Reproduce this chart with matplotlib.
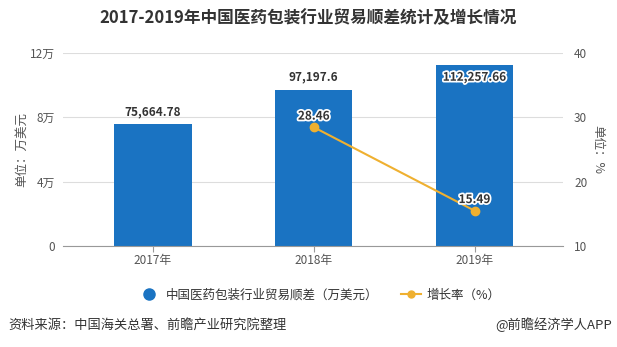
import matplotlib
matplotlib.use("Agg")
import matplotlib.pyplot as plt
import matplotlib.patheffects as pe
from matplotlib.lines import Line2D
import numpy as np

plt.rcParams['font.family'] = ['Noto Sans CJK SC', 'DejaVu Sans']

categories = ["2017年", "2018年", "2019年"]
surplus = [75664.78, 97197.6, 112257.66]
surplus_labels = ["75,664.78", "97,197.6", "112,257.66"]
growth_x = ["2018年", "2019年"]
growth = [28.46, 15.49]
left_ticks = [0, 40000, 80000, 120000]
left_ticklabels = ["0", "4万", "8万", "12万"]
right_ticks = [10, 20, 30, 40]

title = "2017-2019年中国医药包装行业贸易顺差统计及增长情况"
bar_color = "#1a73c2"
line_color = "#efb030"
text_color = "#333333"
axis_text = "#555555"

fig = plt.figure(figsize=(6.17, 3.47), dpi=100)
ax = fig.add_axes([63/617, 1-246/347, 500/617, 193/347])
ax2 = ax.twinx()

x = np.arange(len(categories))
ax.bar(x, surplus, width=0.48, color=bar_color, zorder=2)
ax.set_ylim(0, 120000)
ax.set_xlim(-0.56, 2.55)
ax.set_yticks(left_ticks)
ax.set_yticklabels(left_ticklabels)
ax.set_xticks(x)
ax.set_xticklabels(categories)
ax.grid(axis='y', color='#dddddd', linewidth=0.8, zorder=0)
for s in ['top', 'right', 'left']:
    ax.spines[s].set_visible(False)
ax.spines['bottom'].set_color('#999999')
ax.tick_params(axis='y', length=0, labelsize=8.5, labelcolor=axis_text, pad=6)
ax.tick_params(axis='x', length=4, color='#999999', labelsize=8.5, labelcolor=axis_text, pad=2)
ax.set_ylabel("单位：万美元", fontsize=9, color=axis_text, labelpad=1)

stroke = [pe.withStroke(linewidth=2.5, foreground='white')]
for i, (v, lab) in enumerate(zip(surplus, surplus_labels)):
    if v > 105000:
        ax.annotate(lab, (x[i], v), xytext=(0, -8.5), textcoords='offset points',
                    ha='center', va='center', fontsize=8.5, fontweight='bold',
                    color=text_color, path_effects=stroke, zorder=5)
    else:
        ax.annotate(lab, (x[i], v), xytext=(0, 9), textcoords='offset points',
                    ha='center', va='center', fontsize=8.5, fontweight='bold',
                    color=text_color, zorder=5)

gx = [categories.index(c) for c in growth_x]
ax2.plot(gx, growth, color=line_color, linewidth=1.5, marker='o', markersize=6, zorder=4)
ax2.set_ylim(10, 40)
ax2.set_yticks(right_ticks)
for s in ['top', 'right', 'left', 'bottom']:
    ax2.spines[s].set_visible(False)
ax2.tick_params(axis='y', length=0, labelsize=8.5, labelcolor=axis_text, pad=8)
ax2.set_ylabel("单位：%", fontsize=9, color=axis_text, rotation=270, labelpad=12)
for xi, v in zip(gx, growth):
    ax2.annotate(f"{v:.2f}", (xi, v), xytext=(0, 8), textcoords='offset points',
                 ha='center', va='center', fontsize=8.5, fontweight='bold',
                 color=text_color, path_effects=stroke, zorder=6)

fig.text(0.5, 1-18/347, title, ha='center', va='center', fontsize=12,
         fontweight='bold', color=text_color)

handles = [Line2D([], [], linestyle='none', marker='o', markersize=8, color=bar_color),
           Line2D([], [], color=line_color, marker='o', markersize=5, linewidth=1.5)]
fig.legend(handles, ["中国医药包装行业贸易顺差（万美元）", "增长率（%）"],
           loc='center', bbox_to_anchor=(320/617, 1-295/347), ncol=2, frameon=False,
           fontsize=9, handlelength=1.6, columnspacing=1.8, handletextpad=0.5,
           labelcolor=text_color)

fig.text(8/617, 1-325/347, "资料来源：中国海关总署、前瞻产业研究院整理", ha='left', va='center',
         fontsize=9.5, color=text_color)
fig.text(612/617, 1-325/347, "@前瞻经济学人APP", ha='right', va='center',
         fontsize=9.5, color=text_color)

fig.savefig("out.png", dpi=100)
